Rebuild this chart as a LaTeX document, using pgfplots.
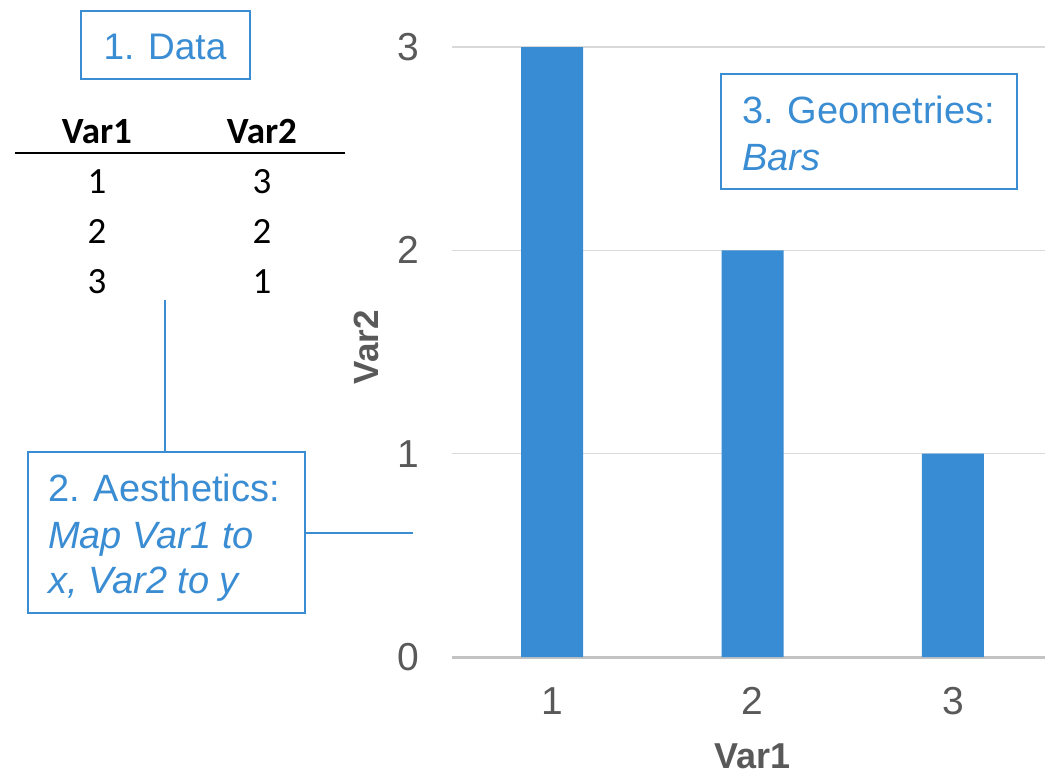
\documentclass[border=0pt]{standalone}
\usepackage{fontspec}
\setmainfont{Liberation Sans}
\newfontfamily\calibri{Carlito}
\usepackage{pgfplots}
\pgfplotsset{compat=1.18}
\definecolor{barblue}{HTML}{388CD4}
\definecolor{txtblue}{HTML}{3A8DD3}
\definecolor{tickgrey}{HTML}{595959}
\definecolor{gridgrey}{HTML}{D9D9D9}
\begin{document}
\begin{tikzpicture}
\path[use as bounding box] (0,0) rectangle (1049bp,-777bp);
\begin{axis}[
  at={(452bp,-657bp)}, anchor=south west,
  scale only axis, width=593bp, height=610bp,
  xmin=0.5, xmax=3.46, ymin=0, ymax=3,
  axis line style={draw=none},
  major tick length=0pt,
  xtick={1,2,3}, ytick={0,1,2,3},
  ymajorgrids, grid style={gridgrey, line width=1.5bp},
  extra y ticks={0}, extra y tick labels={},
  extra y tick style={grid style={gridgrey!90!black, line width=3bp}},
  /pgf/number format/assume math mode=true,
  ticklabel style={font=\fontsize{39bp}{44bp}\selectfont, text=tickgrey},
  xticklabel style={yshift=-27bp},
  yticklabel style={xshift=-29bp},
  xlabel={Var1}, ylabel={Var2},
  xlabel style={font=\bfseries\fontsize{36bp}{40bp}\selectfont, text=tickgrey, at={(axis description cs:0.506,-0.162)}, anchor=center},
  ylabel style={font=\bfseries\fontsize{35bp}{40bp}\selectfont, text=tickgrey, at={(axis description cs:-0.144,0.508)}, anchor=center, rotate=0},
]
\addplot[ybar, bar width=62bp, bar shift=0pt, fill=barblue, draw=none] coordinates {(1,3) (2,2) (3,1)};
\end{axis}
% Box 1
\draw[txtblue, line width=1.5bp] (81bp,-11bp) rectangle (250bp,-79bp);
\node[txtblue, anchor=base, inner sep=0pt, font=\fontsize{37bp}{44bp}\selectfont] at (165bp,-59bp) {1. Data};
% Table
\begin{scope}[every node/.style={anchor=base, inner sep=0pt, font=\calibri\fontsize{37bp}{44bp}\selectfont}]
\node[font=\calibri\bfseries\fontsize{37bp}{44bp}\selectfont] at (97bp,-143bp) {Var1};
\node[font=\calibri\bfseries\fontsize{37bp}{44bp}\selectfont] at (262bp,-143bp) {Var2};
\node at (97bp,-193bp) {1}; \node at (262bp,-193bp) {3};
\node at (97bp,-243bp) {2}; \node at (262bp,-243bp) {2};
\node at (97bp,-293bp) {3}; \node at (262bp,-293bp) {1};
\end{scope}
\draw[black, line width=1.5bp] (15bp,-153bp) -- (345bp,-153bp);
% connectors
\draw[txtblue, line width=1.2bp] (165bp,-300bp) -- (165bp,-452bp);
\draw[txtblue, line width=1.2bp] (305bp,-533bp) -- (413bp,-533bp);
% Box 2
\draw[txtblue, line width=1.5bp, fill=white] (28bp,-452bp) rectangle (305bp,-613bp);
\begin{scope}[every node/.style={txtblue, anchor=base west, inner sep=0pt, font=\fontsize{38bp}{46bp}\selectfont}]
\node at (48bp,-501bp) {2. Aesthetics:};
\node[font=\itshape\fontsize{38bp}{46bp}\selectfont] at (48bp,-548bp) {Map Var1 to};
\node[font=\itshape\fontsize{38bp}{46bp}\selectfont] at (48bp,-593bp) {x, Var2 to y};
% Box 3
\node at (742bp,-123bp) {3. Geometries:};
\node[font=\itshape\fontsize{38bp}{46bp}\selectfont] at (742bp,-170bp) {Bars};
\end{scope}
\draw[txtblue, line width=1.5bp] (721bp,-74bp) rectangle (1017bp,-189bp);
\end{tikzpicture}
\end{document}
